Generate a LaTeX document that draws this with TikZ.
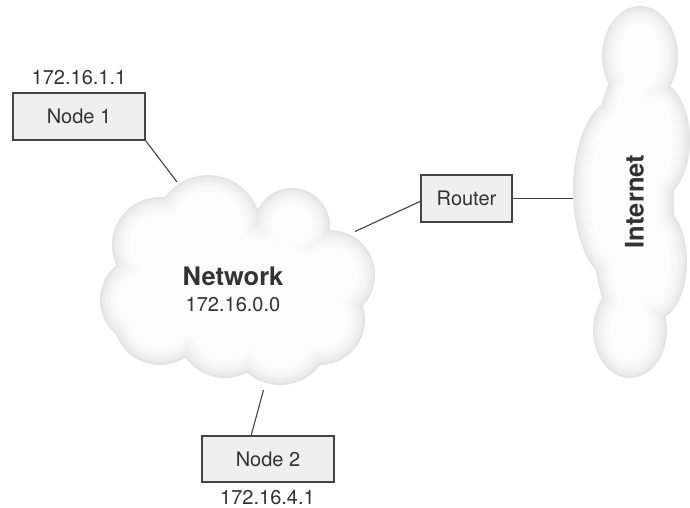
\documentclass[tikz,border=0pt]{standalone}
\usepackage{fontspec}
\setmainfont{TeX Gyre Heros}
\definecolor{txt}{HTML}{333333}
\definecolor{ln}{HTML}{444444}
\definecolor{boxfill}{HTML}{EFEFEF}
\definecolor{rimA}{HTML}{E3E3E3}
\definecolor{rimB}{HTML}{E8E8E8}
\definecolor{rimC}{HTML}{ECECEC}
\definecolor{rimD}{HTML}{F0F0F0}
\definecolor{rimE}{HTML}{F4F4F4}
\definecolor{rimF}{HTML}{F7F7F7}
\definecolor{rimG}{HTML}{FAFAFA}
\definecolor{rimH}{HTML}{FCFCFC}
% union of bumps forming the Network cloud, shrunk by #1
\newcommand{\NetBlobs}[1]{%
  (235,290) ellipse [x radius=110-#1, y radius=70-#1]
  (160,245) circle [radius=48-#1]
  (208,228) circle [radius=53-#1]
  (292,226) circle [radius=38-#1]
  (330,275) circle [radius=45-#1]
  (320,320) circle [radius=45-#1]
  (280,335) circle [radius=50-#1]
  (225,330) circle [radius=48-#1]
  (160,318) circle [radius=47-#1]
  (145,300) circle [radius=45-#1]}
% union of bumps forming the Internet cloud, shrunk by #1
\newcommand{\InetBlobs}[1]{%
  (632,200) ellipse [x radius=42-#1, y radius=140-#1]
  (640,56) ellipse [x radius=38-#1, y radius=50-#1]
  (615,190) ellipse [x radius=42-#1, y radius=90-#1]
  (655,140) ellipse [x radius=35-#1, y radius=60-#1]
  (655,262) ellipse [x radius=32-#1, y radius=58-#1]
  (630,330) ellipse [x radius=37-#1, y radius=48-#1]}
\newcommand{\SoftCloud}[1]{%
  \fill[rimA] #1{0};
  \fill[rimB] #1{1.5};
  \fill[rimC] #1{3};
  \fill[rimD] #1{5};
  \fill[rimE] #1{7.5};
  \fill[rimF] #1{10};
  \fill[rimG] #1{13};
  \fill[rimH] #1{17};}
\begin{document}
\begin{tikzpicture}[x=1pt,y=-1pt,
  hostbox/.style={draw=ln, line width=1.1pt, fill=boxfill, inner sep=0pt, text=txt, font=\fontsize{20}{24}\selectfont},
  lbl/.style={text=txt, font=\fontsize{20}{24}\selectfont, inner sep=0pt, anchor=base},
  biglbl/.style={text=txt, font=\bfseries\fontsize{25.5}{30}\selectfont, inner sep=0pt, anchor=base},
  link/.style={draw=ln, line width=1.1pt}]
\useasboundingbox (0,0) rectangle (690,508);
% clouds
\SoftCloud{\NetBlobs}
\SoftCloud{\InetBlobs}
% cloud labels
\node[biglbl] (netname) at (233,285) {Network};
\node[lbl] (netaddr) at (233,311.7) {172.16.0.0};
\node[biglbl, rotate=90] (inetname) at (643.5,201.5) {Internet};
% boxes
\node[hostbox, minimum width=132pt, minimum height=47pt] (n1) at (79,116.5) {Node 1};
\node[hostbox, minimum width=91pt, minimum height=47pt] (rt) at (466.5,198.5) {Router};
\node[hostbox, minimum width=132pt, minimum height=46pt] (n2) at (268,459) {Node 2};
% address labels
\node[lbl] (n1addr) at (79,84.3) {172.16.1.1};
\node[lbl] (n2addr) at (267.5,504) {172.16.4.1};
% connection points on cloud edges
\coordinate (netA) at (177,182);
\coordinate (netB) at (355,231.5);
\coordinate (netC) at (263.5,390);
\coordinate (inetA) at (573,198.5);
\coordinate (rtW) at (421,201);
\coordinate (n2N) at (251,436);
% links
\draw[link] (n1.south east) -- (netA);
\draw[link] (rtW) -- (netB);
\draw[link] (rt.east) -- (inetA);
\draw[link] (n2N) -- (netC);
\end{tikzpicture}
\end{document}
